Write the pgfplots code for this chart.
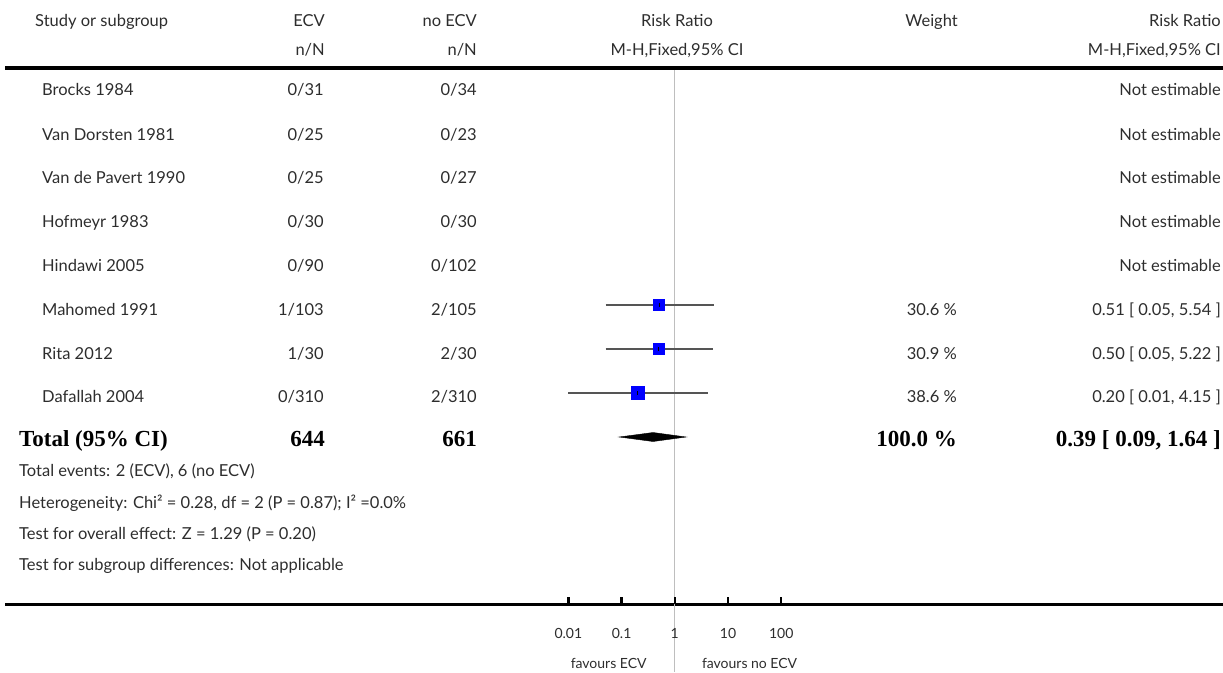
\documentclass[border=0pt]{standalone}
\usepackage{pgfplots}
\pgfplotsset{compat=1.18}
\usepackage{fontspec}
\setmainfont{Lato}
\newfontfamily\totfont{Liberation Serif}
\definecolor{txt}{RGB}{45,45,45}
\definecolor{refline}{RGB}{190,190,190}
\definecolor{cil}{RGB}{85,85,85}
\begin{document}
\begin{tikzpicture}[x=1pt,y=1pt,
  lab/.style={font=\fontsize{16.5}{18}\selectfont, text=txt, inner sep=0pt},
  sm/.style={font=\fontsize{14}{16}\selectfont, text=txt, inner sep=0pt},
  tot/.style={font=\totfont\bfseries\fontsize{23}{26}\selectfont, text=black, inner sep=0pt}]
\useasboundingbox (0,0) rectangle (1223,672);
\begin{axis}[at={(0pt,0pt)}, anchor=south west, scale only axis, width=1223pt, height=672pt,
  xmin=0, xmax=1223, ymin=0, ymax=672, y dir=reverse, hide axis, clip=false]
% rules
\draw[line width=4pt] (axis cs:5,68) -- (axis cs:1223,68);
\draw[line width=3pt] (axis cs:5,604) -- (axis cs:1223,604);
% header
\node[lab,anchor=base west] at (axis cs:35,26) {Study or subgroup};
\node[lab,anchor=base east] at (axis cs:325,26) {ECV};
\node[lab,anchor=base east] at (axis cs:325,55) {n/N};
\node[lab,anchor=base east] at (axis cs:477,26) {no ECV};
\node[lab,anchor=base east] at (axis cs:477,55) {n/N};
\node[lab,anchor=base] at (axis cs:677,26) {Risk Ratio};
\node[lab,anchor=base] at (axis cs:677,55) {M-H,Fixed,95\% CI};
\node[lab,anchor=base east] at (axis cs:958,26) {Weight};
\node[lab,anchor=base east] at (axis cs:1221,26) {Risk Ratio};
\node[lab,anchor=base east] at (axis cs:1221,55) {M-H,Fixed,95\% CI};
% study names
\node[lab,anchor=base west] at (axis cs:42,95) {Brocks 1984};
\node[lab,anchor=base west] at (axis cs:42,140) {Van Dorsten 1981};
\node[lab,anchor=base west] at (axis cs:42,183) {Van de Pavert 1990};
\node[lab,anchor=base west] at (axis cs:42,227) {Hofmeyr 1983};
\node[lab,anchor=base west] at (axis cs:42,271) {Hindawi 2005};
\node[lab,anchor=base west] at (axis cs:42,315) {Mahomed 1991};
\node[lab,anchor=base west] at (axis cs:42,359) {Rita 2012};
\node[lab,anchor=base west] at (axis cs:42,402) {Dafallah 2004};
% ECV
\node[lab,anchor=base east] at (axis cs:324,95) {0/31};
\node[lab,anchor=base east] at (axis cs:324,140) {0/25};
\node[lab,anchor=base east] at (axis cs:324,183) {0/25};
\node[lab,anchor=base east] at (axis cs:324,227) {0/30};
\node[lab,anchor=base east] at (axis cs:324,271) {0/90};
\node[lab,anchor=base east] at (axis cs:324,315) {1/103};
\node[lab,anchor=base east] at (axis cs:324,359) {1/30};
\node[lab,anchor=base east] at (axis cs:324,402) {0/310};
% no ECV
\node[lab,anchor=base east] at (axis cs:477,95) {0/34};
\node[lab,anchor=base east] at (axis cs:477,140) {0/23};
\node[lab,anchor=base east] at (axis cs:477,183) {0/27};
\node[lab,anchor=base east] at (axis cs:477,227) {0/30};
\node[lab,anchor=base east] at (axis cs:477,271) {0/102};
\node[lab,anchor=base east] at (axis cs:477,315) {2/105};
\node[lab,anchor=base east] at (axis cs:477,359) {2/30};
\node[lab,anchor=base east] at (axis cs:477,402) {2/310};
% weight
\node[lab,anchor=base east] at (axis cs:957,315) {30.6 \%};
\node[lab,anchor=base east] at (axis cs:957,359) {30.9 \%};
\node[lab,anchor=base east] at (axis cs:957,402) {38.6 \%};
% risk ratio text
\node[lab,anchor=base east] at (axis cs:1221,95) {Not estimable};
\node[lab,anchor=base east] at (axis cs:1221,140) {Not estimable};
\node[lab,anchor=base east] at (axis cs:1221,183) {Not estimable};
\node[lab,anchor=base east] at (axis cs:1221,227) {Not estimable};
\node[lab,anchor=base east] at (axis cs:1221,271) {Not estimable};
\node[lab,anchor=base east] at (axis cs:1221,315) {0.51 [ 0.05, 5.54 ]};
\node[lab,anchor=base east] at (axis cs:1221,359) {0.50 [ 0.05, 5.22 ]};
\node[lab,anchor=base east] at (axis cs:1221,402) {0.20 [ 0.01, 4.15 ]};
% total
\node[tot,anchor=base west] at (axis cs:19,446) {Total (95\% CI)};
\node[tot,anchor=base east] at (axis cs:325,446) {644};
\node[tot,anchor=base east] at (axis cs:477,446) {661};
\node[tot,anchor=base east] at (axis cs:957,446) {100.0 \%};
\node[tot,anchor=base east] at (axis cs:1221,446) {0.39 [ 0.09, 1.64 ]};
% footnotes
\node[lab,anchor=base west] at (axis cs:19,476) {Total events: 2 (ECV), 6 (no ECV)};
\node[lab,anchor=base west] at (axis cs:19,508) {Heterogeneity: Chi² = 0.28, df = 2 (P = 0.87); I² =0.0\%};
\node[lab,anchor=base west] at (axis cs:19,539) {Test for overall effect: Z = 1.29 (P = 0.20)};
\node[lab,anchor=base west] at (axis cs:19,570) {Test for subgroup differences: Not applicable};
\end{axis}
\begin{axis}[at={(568.4pt,0pt)}, anchor=south west, scale only axis, width=212.8pt, height=672pt,
  xmode=log, xmin=0.01, xmax=100, ymin=0, ymax=672, y dir=reverse, hide axis, clip=false]
\draw[refline, line width=1.3pt] (axis cs:1,70) -- (axis cs:1,672);
% ticks
\draw[black, line width=2.5pt] (axis cs:0.01,604) -- (axis cs:0.01,597);
\draw[black, line width=2.5pt] (axis cs:0.1,604) -- (axis cs:0.1,597);
\draw[black, line width=2.5pt] (axis cs:1,604) -- (axis cs:1,597);
\draw[black, line width=2.5pt] (axis cs:10,604) -- (axis cs:10,597);
\draw[black, line width=2.5pt] (axis cs:100,604) -- (axis cs:100,597);
\node[sm,anchor=base] at (axis cs:0.01,638) {0.01};
\node[sm,anchor=base] at (axis cs:0.1,638) {0.1};
\node[sm,anchor=base] at (axis cs:1,638) {1};
\node[sm,anchor=base] at (axis cs:10,638) {10};
\node[sm,anchor=base] at (axis cs:100,638) {100};
\node[sm,anchor=base east,xshift=-28pt] at (axis cs:1,668) {favours ECV};
\node[sm,anchor=base west,xshift=27pt] at (axis cs:1,668) {favours no ECV};
% confidence intervals
\addplot[cil, line width=1.5pt] coordinates {(0.05,305) (5.54,305)};
\addplot[cil, line width=1.5pt] coordinates {(0.05,349) (5.22,349)};
\addplot[cil, line width=1.5pt] coordinates {(0.01,393) (4.15,393)};
% point estimates
\addplot[only marks, mark=square*, mark size=5.5pt, mark options={fill=blue, draw=blue, line width=0pt}] coordinates {(0.51,305) (0.50,349)};
\addplot[only marks, mark=square*, mark size=6.5pt, mark options={fill=blue, draw=blue, line width=0pt}] coordinates {(0.20,393)};
\addplot[only marks, mark=|, mark size=2pt, black, line width=0.8pt] coordinates {(0.51,305) (0.50,349) (0.20,393)};
% pooled diamond
\addplot[fill=black, draw=black] coordinates {(0.09,437) (0.39,432.5) (1.64,437) (0.39,441.5)} -- cycle;
\end{axis}
\end{tikzpicture}
\end{document}
